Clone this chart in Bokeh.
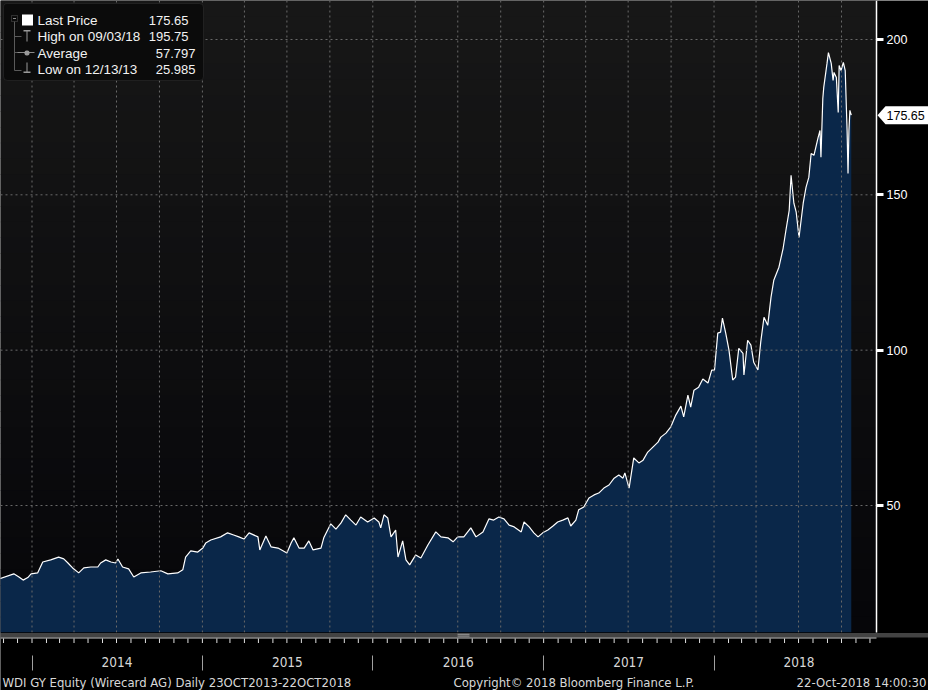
import pandas as pd
from bokeh.plotting import figure
from bokeh.models import Range1d, FixedTicker, Label, BoxAnnotation, PolyAnnotation
from bokeh.embed import file_html
from bokeh.resources import INLINE

# ---------------- data ----------------
dates = [
    "2013-10-23", "2013-11-23", "2013-12-04", "2013-12-13", "2013-12-23", "2013-12-30",
    "2014-01-13", "2014-01-24", "2014-02-10", "2014-02-27", "2014-03-10", "2014-03-19",
    "2014-03-29", "2014-04-11", "2014-04-22", "2014-05-07", "2014-05-22", "2014-05-28",
    "2014-06-08", "2014-06-19", "2014-06-29", "2014-07-04", "2014-07-14", "2014-07-27",
    "2014-08-07", "2014-08-22", "2014-09-12", "2014-10-04", "2014-10-19", "2014-11-09",
    "2014-11-20", "2014-11-26", "2014-12-07", "2014-12-22", "2015-01-02", "2015-01-08",
    "2015-01-19", "2015-02-09", "2015-02-24", "2015-03-09", "2015-03-20", "2015-03-31",
    "2015-04-11", "2015-04-30", "2015-05-04", "2015-05-17", "2015-05-28", "2015-06-12",
    "2015-07-01", "2015-07-10", "2015-07-16", "2015-07-27", "2015-08-07", "2015-08-17",
    "2015-08-26", "2015-09-12", "2015-09-18", "2015-10-03", "2015-10-14", "2015-10-25",
    "2015-11-04", "2015-11-15", "2015-11-26", "2015-12-06", "2015-12-21", "2016-01-04",
    "2016-01-14", "2016-01-18", "2016-01-25", "2016-02-02", "2016-02-09", "2016-02-19",
    "2016-02-24", "2016-03-05", "2016-03-12", "2016-03-20", "2016-04-02", "2016-04-13",
    "2016-04-28", "2016-05-15", "2016-05-26", "2016-06-10", "2016-06-21", "2016-07-01",
    "2016-07-14", "2016-07-29", "2016-08-09", "2016-08-24", "2016-09-06", "2016-09-16",
    "2016-09-27", "2016-10-08", "2016-10-19", "2016-10-30", "2016-11-14", "2016-11-20",
    "2016-12-01", "2016-12-11", "2016-12-20", "2016-12-30", "2017-01-10", "2017-01-21",
    "2017-01-31", "2017-02-11", "2017-02-22", "2017-02-28", "2017-03-11", "2017-03-17",
    "2017-03-28", "2017-04-08", "2017-04-19", "2017-04-29", "2017-05-10", "2017-05-21",
    "2017-06-01", "2017-06-11", "2017-06-20", "2017-06-24", "2017-07-03", "2017-07-13",
    "2017-07-24", "2017-08-02", "2017-08-12", "2017-08-23", "2017-09-03", "2017-09-09",
    "2017-09-20", "2017-09-30", "2017-10-11", "2017-10-22", "2017-10-28", "2017-11-06",
    "2017-11-12", "2017-11-19", "2017-11-29", "2017-12-08", "2017-12-19", "2017-12-27",
    "2018-01-02", "2018-01-09", "2018-01-15", "2018-01-19", "2018-01-26", "2018-02-02",
    "2018-02-10", "2018-02-16", "2018-02-23", "2018-03-04", "2018-03-06", "2018-03-14",
    "2018-03-21", "2018-03-27", "2018-04-05", "2018-04-11", "2018-04-18", "2018-04-26",
    "2018-05-03", "2018-05-09", "2018-05-20", "2018-05-29", "2018-06-04", "2018-06-11",
    "2018-06-15", "2018-06-21", "2018-06-26", "2018-07-02", "2018-07-11", "2018-07-17",
    "2018-07-23", "2018-07-28", "2018-08-03", "2018-08-12", "2018-08-16", "2018-08-18",
    "2018-08-22", "2018-08-24", "2018-08-31", "2018-09-03", "2018-09-09", "2018-09-13",
    "2018-09-15", "2018-09-20", "2018-09-24", "2018-09-26", "2018-09-30", "2018-10-05",
    "2018-10-09", "2018-10-13", "2018-10-15", "2018-10-17", "2018-10-19", "2018-10-22",
]
prices = [
    26.4, 28.0, 27.0, 25.985, 26.8, 28.0,
    28.3, 31.8, 32.5, 33.4, 32.8, 31.5,
    29.9, 28.3, 29.9, 30.2, 30.2, 31.5,
    32.5, 31.8, 31.5, 32.8, 30.2, 29.6,
    27.0, 28.3, 28.6, 29.0, 28.0, 28.3,
    29.3, 33.4, 35.4, 35.0, 36.3, 37.9,
    38.9, 39.9, 41.2, 40.5, 39.9, 39.2,
    41.2, 39.9, 35.7, 40.2, 36.7, 36.3,
    34.7, 37.9, 39.6, 36.3, 36.3, 38.6,
    35.7, 36.3, 39.6, 44.1, 42.4, 44.4,
    47.0, 45.3, 43.7, 46.3, 44.7, 46.0,
    44.7, 42.8, 47.0, 46.0, 39.9, 42.1,
    33.4, 38.6, 32.5, 30.9, 34.1, 33.1,
    37.3, 41.5, 39.9, 39.6, 38.3, 39.9,
    39.9, 42.8, 39.9, 41.5, 45.7, 45.3,
    46.3, 45.7, 43.7, 43.1, 41.5, 44.7,
    43.1, 41.2, 39.9, 41.2, 42.1, 43.4,
    44.7, 45.3, 46.0, 43.4, 45.3, 48.6,
    49.5, 52.4, 53.4, 54.0, 55.6, 56.6,
    58.8, 59.8, 58.8, 60.5, 55.6, 65.3,
    63.7, 64.6, 67.2, 68.8, 70.4, 72.0,
    73.3, 75.2, 79.1, 82.0, 78.5, 85.5,
    81.7, 87.1, 88.1, 90.7, 89.4, 93.6,
    93.6, 105.5, 105.8, 110.3, 105.5, 100.0,
    90.4, 91.3, 100.6, 99.0, 92.0, 103.2,
    101.6, 96.1, 93.6, 102.6, 110.6, 108.0,
    117.0, 122.5, 126.7, 132.8, 138.6, 145.0,
    156.3, 147.3, 144.4, 136.3, 147.3, 152.4,
    155.6, 163.3, 162.7, 168.5, 170.7, 162.1,
    181.0, 184.6, 192.3, 195.75, 192.3, 186.8,
    189.4, 187.8, 176.5, 191.6, 190.0, 192.6,
    190.0, 170.7, 156.9, 170.7, 177.2, 175.65,
]

last_price = 175.65
high_text = "High on 09/03/18"
high_price = 195.75
average_text = "Average"
average_price = 57.797
low_text = "Low on 12/13/13"
low_price = 25.985

price_ticks = [50, 100, 150, 200]
years = [2014, 2015, 2016, 2017, 2018]
year_labels = ["2014", "2015", "2016", "2017", "2018"]

footer_left = "WDI GY Equity (Wirecard AG)  Daily 23OCT2013-22OCT2018"
footer_mid = "Copyright\u00a9 2018 Bloomberg Finance L.P."
footer_right = "22-Oct-2018 14:00:30"

# ---------------- layout ----------------
W, H = 928, 690
PW, PB = 876, 632          # right edge of the price panel, bottom of the price area
XA = pd.Timestamp("2013-10-25 12:00")   # at pixel 0
XB = pd.Timestamp("2018-12-15")         # at pixel PW
YT, YB = 212.55, 5.9                    # at pixel 0 and pixel 642


def ms(ts):
    return ts.value / 1e6


def px_x(px):
    return ms(XA) + (ms(XB) - ms(XA)) * px / PW


def px_y(py):
    return YT - (YT - YB) * py / 642


NARROW = "'Liberation Sans Narrow', 'Arial Narrow', 'DejaVu Sans Condensed', sans-serif"
SANS = "'Liberation Sans', Arial, sans-serif"

p = figure(width=W, height=H, x_axis_type="datetime", y_axis_location="right",
           x_range=Range1d(px_x(0), px_x(W)), y_range=Range1d(px_y(H), px_y(0)),
           toolbar_location=None, output_backend="svg",
           min_border=0, min_border_left=0, min_border_top=0, min_border_right=0,
           min_border_bottom=0,
           background_fill_color="#000000", border_fill_color="#000000",
           outline_line_color=None)
p.xgrid.visible = False
p.ygrid.visible = False

# background gradient of the price panel
n = 40
tops, bots, cols = [], [], []
for i in range(n):
    tops.append(px_y(PB * i / n))
    bots.append(px_y(PB * (i + 1) / n + 0.6))
    t = i / (n - 1)
    r = int(round(23 + (6 - 23) * t))
    b = int(round(23 + (9 - 23) * t))
    cols.append("#%02x%02x%02x" % (r, r, b))
p.quad(left=px_x(0), right=px_x(PW), top=tops, bottom=bots, fill_color=cols, line_color=None)

# price area + line
dt = pd.to_datetime(dates)
base = px_y(PB)
p.varea(x=dt, y1=base, y2=prices, fill_color="#0a2749")
p.line(x=dt, y=prices, line_color="white", line_width=1.2)

# dashed grid
quarters = [ms(pd.Timestamp(y, m, 1)) for y in years for m in (1, 4, 7, 10)]
p.segment(x0=quarters, y0=base, x1=quarters, y1=px_y(0), line_color="#6a6a6a",
          line_dash="2 3", line_width=1)
p.segment(x0=px_x(0), y0=price_ticks, x1=px_x(PW), y1=price_ticks, line_color="#6a6a6a",
          line_dash="2 3", line_width=1)

# bottom scroll band + month ticks
p.quad(left=px_x(0), right=px_x(W), top=base, bottom=px_y(H), fill_color="#000000",
       line_color=None)
p.quad(left=px_x(0), right=px_x(W), top=px_y(632.5), bottom=px_y(637), fill_color="#434343",
       line_color=None)
p.segment(x0=px_x(0), x1=px_x(PW), y0=px_y(637.5), y1=px_y(637.5), line_color="#c8c8c8",
          line_width=1)
months = [ms(pd.Timestamp(y, m, 1)) for y in [2013] + years for m in range(1, 13)]
months = [m for m in months if m < px_x(PW)]
p.segment(x0=months, x1=months, y0=px_y(638), y1=px_y(642.5), line_color="#e0e0e0",
          line_width=1)
p.segment(x0=[px_x(457), px_x(457)], x1=[px_x(469), px_x(469)],
          y0=[px_y(633.8), px_y(635.6)], y1=[px_y(633.8), px_y(635.6)],
          line_color="#9a9a9a", line_width=1)

# ---------------- axes (fixed inside the full-size frame) ----------------
ya = p.yaxis[0]
ya.fixed_location = px_x(PW)
ya.bounds = (base, px_y(0))
ya.ticker = FixedTicker(ticks=price_ticks, minor_ticks=[])
ya.axis_line_color = "white"
ya.axis_line_width = 1.5
ya.major_tick_in = 0
ya.major_tick_out = 7
ya.major_tick_line_width = 3
ya.major_tick_line_color = "white"
ya.minor_tick_line_color = None
ya.major_label_standoff = 3
ya.major_label_text_color = "white"
ya.major_label_text_font = SANS
ya.major_label_text_font_size = "12.5px"

xa = p.xaxis[0]
xa.fixed_location = px_y(642)
mids = [int(ms(pd.Timestamp(y, 7, 2))) for y in years]
bounds = [int(ms(pd.Timestamp(y, 1, 1))) for y in years]
xa.ticker = FixedTicker(ticks=mids, minor_ticks=bounds)
xa.major_label_overrides = {m: lab for m, lab in zip(mids, year_labels)}
xa.axis_line_color = None
xa.major_tick_line_color = None
xa.minor_tick_line_color = "#a0a0a0"
xa.minor_tick_in = -13
xa.minor_tick_out = 28
xa.major_label_standoff = -14
xa.major_label_text_color = "#d8d8d8"
xa.major_label_text_font = NARROW
xa.major_label_text_font_size = "13.5px"

# ---------------- last price tag ----------------
h = 9 * (YT - YB) / 642
p.add_layout(PolyAnnotation(xs=[877, 885, 928, 928, 885],
                            ys=[last_price, last_price + h, last_price + h,
                                last_price - h, last_price - h],
                            xs_units="screen", ys_units="data",
                            fill_color="white", fill_alpha=1, line_color=None))
p.add_layout(Label(x=886, x_units="screen", y=last_price, y_units="data",
                   text="%.2f" % last_price, text_baseline="middle", text_align="left",
                   text_color="black", text_font=SANS, text_font_size="12.5px"))

# ---------------- legend box ----------------
p.add_layout(BoxAnnotation(left=3, right=203, left_units="screen", right_units="screen",
                           top=px_y(3), bottom=px_y(80), fill_color="#0b0b0b", fill_alpha=1,
                           line_color="#4a4a4a", line_width=1, border_radius=4))


def bar(l, r, t, b, color="#8c8c8c", radius=0):
    p.add_layout(BoxAnnotation(left=l, right=r, left_units="screen", right_units="screen",
                               top=px_y(t), bottom=px_y(b), fill_color=color, fill_alpha=1,
                               line_color=None, border_radius=radius))


# tree lines
bar(13.5, 14.5, 21, 70, "#5a5a5a")
for yy in (36, 52, 70):
    bar(14, 21, yy - 0.5, yy + 0.5, "#5a5a5a")
p.add_layout(BoxAnnotation(left=11, right=17, left_units="screen", right_units="screen",
                           top=px_y(15), bottom=px_y(21), fill_color="#0b0b0b", fill_alpha=1,
                           line_color="#8c8c8c", line_width=1))
bar(12.5, 15.5, 17.6, 18.4, "#8c8c8c")
# icons
bar(21.5, 32.5, 14, 25, "#ffffff")
bar(23, 30, 29.5, 31, "#9a9a9a")
bar(26, 27, 30, 41, "#9a9a9a")
bar(17, 34, 51.5, 52.5, "#8a8a8a")
bar(24, 29, 50, 55, "#9a9a9a", radius=2)
bar(26, 27, 62, 72, "#9a9a9a")
bar(23, 30, 71, 72.5, "#9a9a9a")

rows = [(20, "Last Price", last_price, "%.2f", 188),
        (36, high_text, high_price, "%.2f", 188),
        (52.5, average_text, average_price, "%.3f", 195),
        (68.5, low_text, low_price, "%.3f", 195)]
for yy, name, val, fmt, xr in rows:
    p.add_layout(Label(x=37, x_units="screen", y=px_y(yy), y_units="data", text=name,
                       text_baseline="middle", text_color="#f2f2f2", text_font=SANS,
                       text_font_size="13.5px"))
    p.add_layout(Label(x=xr, x_units="screen", y=px_y(yy), y_units="data", text=fmt % val,
                       text_baseline="middle", text_align="right", text_color="#f2f2f2",
                       text_font=SANS, text_font_size="13px"))

# ---------------- footer ----------------
fy = px_y(682)
for txt, xx, al in [(footer_left, 2, "left"), (footer_mid, 453, "left"),
                    (footer_right, 926, "right")]:
    p.add_layout(Label(x=xx, x_units="screen", y=fy, y_units="data", text=txt,
                       text_baseline="middle", text_align=al, text_color="#d8d8d8",
                       text_font=NARROW, text_font_size="13px"))

open("out.html", "w").write(file_html(p, INLINE))
